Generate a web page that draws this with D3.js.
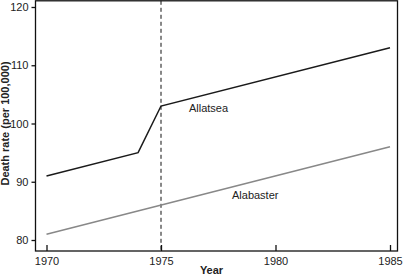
<!DOCTYPE html>
<meta charset="utf-8">
<style>
  body{margin:0;background:#fff;}
  text{font-family:"Liberation Sans",Arial,sans-serif;font-size:11px;fill:#222;}
  .axis path,.axis line{stroke:#111;stroke-width:1.3px;}
  .ttl{font-weight:bold;}
</style>
<body>
<script src="https://cdn.jsdelivr.net/npm/d3@7"></script>
<script>

  var allatseaYears=[1970,1974,1975,1985];
  var allatseaRates=[91,95,103,113];
  var alabasterYears=[1970,1985];
  var alabasterRates=[81,96];
  var xTicks=[1970,1975,1980,1985];
  var yTicks=[80,90,100,110,120];
  var cutYear=1975;

  var W=410,H=276;
  var svg=d3.select("body").append("svg").attr("width",W).attr("height",H);

  var x=d3.scaleLinear().domain([1970,1985]).range([46.5,390]);
  var y=d3.scaleLinear().domain([80,120]).range([240,7]);
  var fL=35.5,fR=397.5,fT=0.8,fB=251;

  // frame
  svg.append("rect").attr("x",fL).attr("y",fT)
     .attr("width",fR-fL).attr("height",fB-fT)
     .attr("fill","none").attr("stroke","#111").attr("stroke-width",1.3);

  var ya=svg.append("g").attr("class","axis").attr("transform","translate("+fL+",0)")
     .call(d3.axisLeft(y).tickValues(yTicks).tickSize(4).tickPadding(3));
  ya.select(".domain").remove();

  var xa=svg.append("g").attr("class","axis").attr("transform","translate(0,"+fB+")")
     .call(d3.axisBottom(x).tickValues(xTicks).tickFormat(d3.format("d")).tickSize(-6).tickPadding(4));
  xa.select(".domain").remove();
  xa.selectAll("text").attr("dy","0.95em");
  svg.selectAll(".axis text").style("font-size","11px").attr("fill","#222");

  // dashed line at cutYear
  svg.append("line").attr("x1",x(cutYear)).attr("x2",x(cutYear))
     .attr("y1",fT).attr("y2",fB)
     .attr("stroke","#111").attr("stroke-width",1).attr("stroke-dasharray","4,3");

  var line=d3.line().x(d=>x(d[0])).y(d=>y(d[1]));

  svg.append("path").datum(d3.zip(allatseaYears,allatseaRates))
     .attr("d",line).attr("fill","none").attr("stroke","#1a1a1a").attr("stroke-width",1.5);
  svg.append("path").datum(d3.zip(alabasterYears,alabasterRates))
     .attr("d",line).attr("fill","none").attr("stroke","#888").attr("stroke-width",1.5);

  svg.append("text").attr("x",x(1976.22)).attr("y",y(102)).text("Allatsea");
  svg.append("text").attr("x",x(1978.1)).attr("y",y(87.1)).text("Alabaster");

  svg.append("text").attr("class","ttl").attr("x",(fL+fR)/2-5).attr("y",274)
     .attr("text-anchor","middle").text("Year");
  svg.append("text").attr("class","ttl")
     .attr("transform","translate(8.5,"+(y(100))+") rotate(-90)")
     .attr("text-anchor","middle").text("Death rate (per 100,000)");

</script>
</body>
